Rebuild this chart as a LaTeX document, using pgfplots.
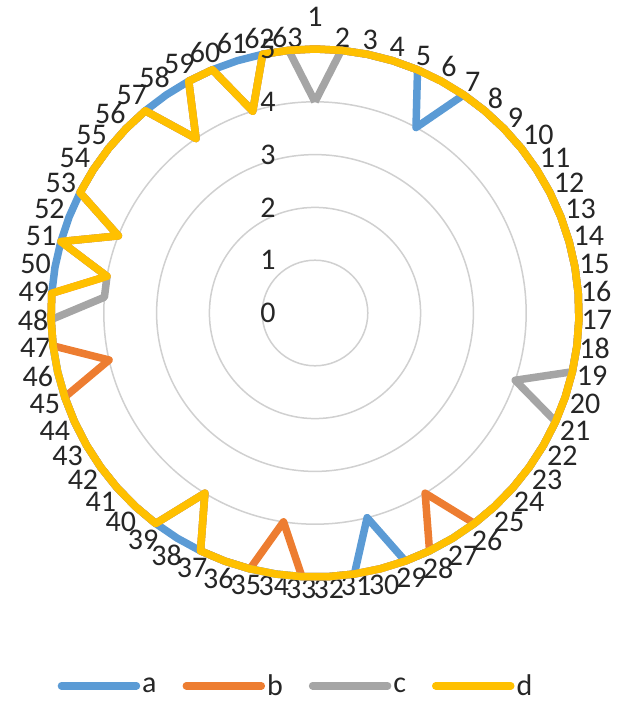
\documentclass[border=0pt]{standalone}
\usepackage{pgfplots}
\pgfplotsset{compat=1.18}
\usepackage{pgfplotstable}
\usepgfplotslibrary{polar}
\usepackage{fontspec}
\setmainfont{Carlito}
\definecolor{ca}{HTML}{5B9BD5}
\definecolor{cb}{HTML}{ED7D31}
\definecolor{cc}{HTML}{A5A5A5}
\definecolor{cd}{HTML}{FFC000}
\definecolor{gridc}{HTML}{D0D0D0}
\definecolor{txt}{HTML}{262626}
\pgfplotstableread{
k a b c d
1 5 5 4 5
2 5 5 5 5
3 5 5 5 5
4 5 5 5 5
5 5 5 5 5
6 4 5 5 5
7 5 5 5 5
8 5 5 5 5
9 5 5 5 5
10 5 5 5 5
11 5 5 5 5
12 5 5 5 5
13 5 5 5 5
14 5 5 5 5
15 5 5 5 5
16 5 5 5 5
17 5 5 5 5
18 5 5 5 5
19 5 5 5 5
20 5 5 4 5
21 5 5 5 5
22 5 5 5 5
23 5 5 5 5
24 5 5 5 5
25 5 5 5 5
26 5 5 5 5
27 5 4 5 5
28 5 5 5 5
29 5 5 5 5
30 4 5 5 5
31 5 5 5 5
32 5 5 5 5
33 5 5 5 5
34 5 4 5 5
35 5 5 5 5
36 5 5 5 5
37 5 5 5 5
38 5 4 4 4
39 5 5 5 5
40 5 5 5 5
41 5 5 5 5
42 5 5 5 5
43 5 5 5 5
44 5 5 5 5
45 5 5 5 5
46 5 4 5 5
47 5 5 5 5
48 5 5 5 5
49 5 5 4 5
50 5 4 4 4
51 5 5 5 5
52 5 4 4 4
53 5 5 5 5
54 5 5 5 5
55 5 5 5 5
56 5 5 5 5
57 5 5 5 5
58 5 4 4 4
59 5 5 5 5
60 5 5 5 5
61 5 4 4 4
62 5 5 5 5
63 5 5 5 5
64 5 5 4 5
}\data
\begin{document}
\begin{tikzpicture}[x=1pt,y=1pt]
\useasboundingbox (0,0) rectangle (625,702);
\begin{polaraxis}[
  at={(315pt,389pt)}, anchor=center,
  width=528pt, height=528pt, scale only axis,
  xmin=0, xmax=360,
  ymin=0, ymax=5, ytick={1,2,3,4,5}, yticklabels={},
  xtick={4.2857142857,9.9999999999,...,358.6},
  xticklabels={16,15,14,13,12,11,10,9,8,7,6,5,4,3,2,\raisebox{20pt}{1},63,62,61,60,59,58,57,56,55,54,53,52,51,50,49,48,47,46,45,44,43,42,41,40,39,38,37,36,35,34,33,32,31,30,29,28,27,26,25,24,23,22,21,20,19,18,17},
  ymajorgrids=true, xmajorgrids=false,
  y grid style={draw=gridc, line width=1.5pt},
  axis line style={draw=gridc, line width=1.5pt},
  y axis line style={draw=none},
  major tick length=0pt,
  xtick style={draw=none}, ytick style={draw=none},
  xticklabel style={font=\fontsize{30}{30}\selectfont, text=txt, inner sep=2.5pt},
  /pgf/number format/assume math mode=true,
  clip=false,
  legend style={at={(0.464,-0.206)}, anchor=center, draw=none, fill=none,
    legend columns=4, font=\fontsize{30}{30}\selectfont, text=txt,
    /tikz/every even column/.append style={column sep=24pt}},
  legend image code/.code={\draw[#1, line cap=round] (0pt,0pt) -- (75pt,0pt);},
  every axis plot/.append style={line width=7.5pt, line join=round},
]
\addplot[ca] table[x expr={90-(\thisrow{k}-1)*360/63}, y=a] {\data};
\addplot[cb] table[x expr={90-(\thisrow{k}-1)*360/63}, y=b] {\data};
\addplot[cc] table[x expr={90-(\thisrow{k}-1)*360/63}, y=c] {\data};
\addplot[cd] table[x expr={90-(\thisrow{k}-1)*360/63}, y=d] {\data};
\legend{a,b,c,d}
\node[anchor=east, font=\fontsize{30}{30}\selectfont, text=txt, xshift=-36pt] at (axis cs:90,0) {0};
\node[anchor=east, font=\fontsize{30}{30}\selectfont, text=txt, xshift=-36pt] at (axis cs:90,1) {1};
\node[anchor=east, font=\fontsize{30}{30}\selectfont, text=txt, xshift=-36pt] at (axis cs:90,2) {2};
\node[anchor=east, font=\fontsize{30}{30}\selectfont, text=txt, xshift=-36pt] at (axis cs:90,3) {3};
\node[anchor=east, font=\fontsize{30}{30}\selectfont, text=txt, xshift=-36pt] at (axis cs:90,4) {4};
\node[anchor=east, font=\fontsize{30}{30}\selectfont, text=txt, xshift=-36pt] at (axis cs:90,5) {5};
\end{polaraxis}
\end{tikzpicture}
\end{document}
